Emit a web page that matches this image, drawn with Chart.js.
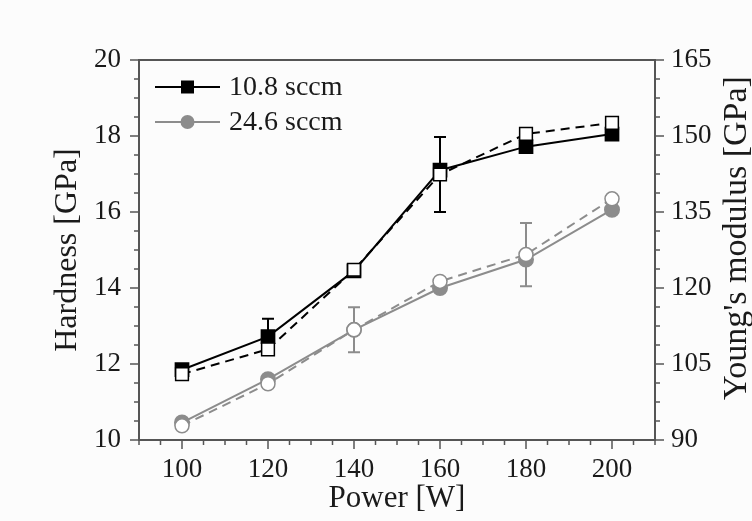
<!DOCTYPE html>
<html>
<head>
<meta charset="utf-8">
<script src="https://cdn.jsdelivr.net/npm/chart.js@4.4.1/dist/chart.umd.min.js"></script>
<style>
  html, body { margin: 0; padding: 0; background: #fcfcfc; }
  #wrap { width: 752px; height: 521px; }
</style>
</head>
<body>
<div id="wrap"><canvas id="line_chart"></canvas></div>
<script>
// power [W]
var power = [100, 120, 140, 160, 180, 200];

// hardness [GPa] (left axis, filled markers, solid lines)
var hard_10_8 = [11.85, 12.72, 14.45, 17.1, 17.72, 18.05];
var hard_24_6 = [10.46, 11.6, 12.9, 14.0, 14.75, 16.06];

// young's modulus [GPa] (right axis, open markers, dashed lines)
var mod_10_8 = [103.0, 107.9, 123.6, 142.4, 150.4, 152.6];
var mod_24_6 = [92.8, 101.1, 111.75, 121.3, 126.6, 137.6];

// error bars (null = none drawn)
var hard_10_8_err = [null, 0.47, null, null, null, null];
var mod_10_8_err = [null, null, null, 7.4, null, null];
var mod_24_6_err = [null, null, 4.45, null, 6.25, null];

var leftTicks = [10, 12, 14, 16, 18, 20];
var rightTicks = [90, 105, 120, 135, 150, 165];
var xTicks = [100, 120, 140, 160, 180, 200];

var BLACK = '#000000';
var GREY = '#8c8c8c';
var AXIS = '#555555';
var TEXT = '#1a1a1a';
var FONT = '"Liberation Serif", "Times New Roman", serif';

function pts(xs, ys) {
    return xs.map(function (x, i) { return { x: x, y: ys[i] }; });
}

function vtitle(ctx, txt, x, y, size) {
    ctx.save();
    ctx.translate(x, y);
    ctx.rotate(-Math.PI / 2);
    ctx.fillStyle = TEXT;
    ctx.font = size + 'px ' + FONT;
    ctx.textAlign = 'center';
    ctx.textBaseline = 'middle';
    ctx.fillText(txt, 0, 0);
    ctx.restore();
}

// frame, minor/major ticks, error bars, legend, y titles
var decor = {
    id: 'decor',
    beforeDatasetsDraw: function (chart) {
        var ctx = chart.ctx;
        var sx = chart.scales.x, sl = chart.scales.y, sr = chart.scales.y2;
        ctx.save();
        var bars = [
            { data: hard_10_8, err: hard_10_8_err, s: sl, c: BLACK },
            { data: mod_10_8, err: mod_10_8_err, s: sr, c: BLACK },
            { data: mod_24_6, err: mod_24_6_err, s: sr, c: GREY }
        ];
        bars.forEach(function (b) {
            ctx.strokeStyle = b.c;
            ctx.lineWidth = 2;
            b.err.forEach(function (e, i) {
                if (e === null) return;
                var px = sx.getPixelForValue(power[i]);
                var y1 = b.s.getPixelForValue(b.data[i] + e);
                var y2 = b.s.getPixelForValue(b.data[i] - e);
                ctx.beginPath();
                ctx.moveTo(px, y1); ctx.lineTo(px, y2);
                ctx.moveTo(px - 6, y1); ctx.lineTo(px + 6, y1);
                ctx.moveTo(px - 6, y2); ctx.lineTo(px + 6, y2);
                ctx.stroke();
            });
        });
        ctx.restore();
    },
    afterDraw: function (chart) {
        var ctx = chart.ctx;
        var a = chart.chartArea;
        var sx = chart.scales.x, sl = chart.scales.y, sr = chart.scales.y2;
        ctx.save();
        ctx.strokeStyle = AXIS;
        ctx.lineWidth = 2;
        ctx.strokeRect(a.left, a.top, a.right - a.left, a.bottom - a.top);

        ctx.lineWidth = 1.5;
        ctx.beginPath();
        var v, p, len;
        for (v = 90; v <= 210; v += 5) {
            p = sx.getPixelForValue(v);
            len = (v % 20 === 0 && v >= 100 && v <= 200) ? 9 : 5;
            ctx.moveTo(p, a.bottom); ctx.lineTo(p, a.bottom + len);
        }
        for (v = 10; v <= 20.001; v += 0.5) {
            p = sl.getPixelForValue(v);
            len = (Math.abs(v % 2) < 0.001) ? 9 : 5;
            ctx.moveTo(a.left, p); ctx.lineTo(a.left - len, p);
        }
        for (v = 90; v <= 165.001; v += 3.75) {
            p = sr.getPixelForValue(v);
            len = (Math.abs((v - 90) % 15) < 0.001) ? 9 : 5;
            ctx.moveTo(a.right, p); ctx.lineTo(a.right + len, p);
        }
        ctx.stroke();

        // legend
        var items = [
            { t: '10.8 sccm', c: BLACK, shape: 'sq', y: 87 },
            { t: '24.6 sccm', c: GREY, shape: 'ci', y: 122 }
        ];
        items.forEach(function (it) {
            ctx.strokeStyle = it.c;
            ctx.lineWidth = 2;
            ctx.beginPath();
            ctx.moveTo(155, it.y); ctx.lineTo(220, it.y);
            ctx.stroke();
            ctx.fillStyle = it.c;
            if (it.shape === 'sq') {
                ctx.fillRect(181, it.y - 6.5, 13, 13);
            } else {
                ctx.beginPath();
                ctx.arc(187.5, it.y, 7, 0, Math.PI * 2);
                ctx.fill();
            }
            ctx.fillStyle = TEXT;
            ctx.font = '28px ' + FONT;
            ctx.textBaseline = 'middle';
            ctx.textAlign = 'left';
            ctx.fillText(it.t, 229, it.y + 1);
        });
        ctx.restore();

        var cy = (a.top + a.bottom) / 2;
        vtitle(ctx, 'Hardness [GPa]', 68, cy, 32);
        vtitle(ctx, "Young's modulus [GPa]", 737, cy - 12, 34);
    }
};

var tickFont = { family: FONT, size: 27 };
var titleFont = { family: FONT, size: 31 };

new Chart(document.getElementById('line_chart').getContext('2d'), {
    type: 'line',
    data: {
        datasets: [
            {
                label: '10.8 sccm modulus', data: pts(power, mod_10_8), yAxisID: 'y2',
                borderColor: BLACK, borderWidth: 2, borderDash: [9, 6],
                pointStyle: 'rect', pointRadius: 9, pointBorderWidth: 1.5,
                pointBackgroundColor: '#ffffff', pointBorderColor: BLACK, order: 1
            },
            {
                label: '24.6 sccm modulus', data: pts(power, mod_24_6), yAxisID: 'y2',
                borderColor: GREY, borderWidth: 2, borderDash: [9, 6],
                pointStyle: 'circle', pointRadius: 7, pointBorderWidth: 1.5,
                pointBackgroundColor: '#ffffff', pointBorderColor: GREY, order: 2
            },
            {
                label: '10.8 sccm', data: pts(power, hard_10_8), yAxisID: 'y',
                borderColor: BLACK, borderWidth: 2,
                pointStyle: 'rect', pointRadius: 9,
                pointBackgroundColor: BLACK, pointBorderColor: BLACK, order: 3
            },
            {
                label: '24.6 sccm', data: pts(power, hard_24_6), yAxisID: 'y',
                borderColor: GREY, borderWidth: 2,
                pointStyle: 'circle', pointRadius: 7,
                pointBackgroundColor: GREY, pointBorderColor: GREY, order: 4
            }
        ]
    },
    options: {
        responsive: true,
        maintainAspectRatio: false,
        animation: false,
        layout: { padding: { top: 60, right: 0, left: 0, bottom: 0 } },
        plugins: { legend: { display: false }, tooltip: { enabled: false } },
        scales: {
            x: {
                type: 'linear', min: 90, max: 210,
                afterBuildTicks: function (s) { s.ticks = xTicks.map(function (v) { return { value: v }; }); },
                ticks: { font: tickFont, color: TEXT, padding: 6 },
                grid: { display: false },
                border: { display: false },
                title: { display: true, text: 'Power [W]', font: titleFont, color: TEXT, padding: { top: 2 } },
                afterFit: function (s) { s.height = 81; }
            },
            y: {
                position: 'left', min: 10, max: 20,
                afterBuildTicks: function (s) { s.ticks = leftTicks.map(function (v) { return { value: v }; }); },
                ticks: { font: tickFont, color: TEXT, padding: 10 },
                grid: { display: false },
                border: { display: false },
                afterFit: function (s) { s.width = 139; }
            },
            y2: {
                position: 'right', min: 90, max: 165,
                afterBuildTicks: function (s) { s.ticks = rightTicks.map(function (v) { return { value: v }; }); },
                ticks: { font: tickFont, color: TEXT, padding: 8 },
                grid: { display: false },
                border: { display: false },
                afterFit: function (s) { s.width = 97; }
            }
        }
    },
    plugins: [decor]
});
</script>
</body>
</html>
